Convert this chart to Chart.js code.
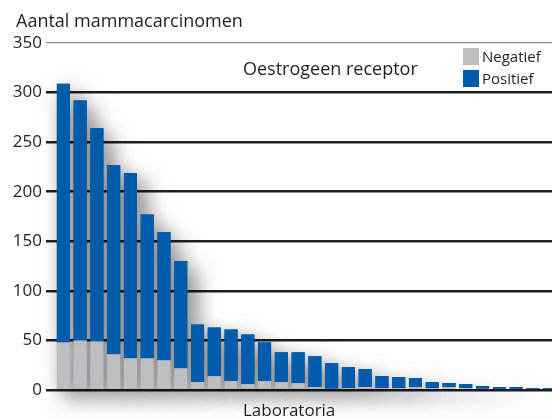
<!DOCTYPE html>
<html>
<head>
<meta charset="utf-8">
<script src="https://cdn.jsdelivr.net/npm/chart.js@4/dist/chart.umd.min.js"></script>
<style>
  html, body { margin: 0; padding: 0; background: #fff; overflow: hidden; }
  #wrap { width: 552px; height: 419px; overflow: hidden; }
</style>
</head>
<body>
<div id="wrap"><canvas id="chart" width="558" height="419"></canvas></div>
<script>
// one category per laboratorium, sorted by total
const labs = ["1", "2", "3", "4", "5", "6", "7", "8", "9", "10",
  "11", "12", "13", "14", "15", "16", "17", "18", "19", "20",
  "21", "22", "23", "24", "25", "26", "27", "28", "29", "30"];
const negatief = [48, 50, 49, 36, 32, 32, 30, 22, 8, 14, 9, 6, 9, 8, 7, 3, 1, 2, 3, 2, 2, 3, 2, 3, 2, 1, 0, 0, 0, 0];
const positief = [261, 242, 215, 191, 187, 145, 129, 108, 58, 49, 52, 50, 39, 30, 31, 31, 26, 21, 18, 12, 11, 9, 6, 4, 4, 3, 3, 3, 2, 2];
const yTicks = [0, 50, 100, 150, 200, 250, 300, 350];

const FONT = "'Open Sans', 'Noto Sans', sans-serif";
const INK = "#231f20";
const BLUE = "#005bab";
const GREY = "#bdbec2";

// shadow pass behind all bars, then normal bars drawn on top
const shadowPass = {
  id: "shadowPass",
  beforeDatasetsDraw(chart) {
    var ctx = chart.ctx;
    ctx.save();
    ctx.shadowColor = "rgba(0,0,0,0.62)";
    ctx.shadowBlur = 22;
    ctx.shadowOffsetX = 8;
    ctx.shadowOffsetY = 9;
    chart.getSortedVisibleDatasetMetas().forEach(function (meta) {
      meta.data.forEach(function (bar) { bar.draw(ctx); });
    });
    ctx.restore();
  }
};

const texts = {
  id: "texts",
  afterDraw(chart) {
    var ctx = chart.ctx;
    ctx.save();
    ctx.fillStyle = INK;
    ctx.textBaseline = "alphabetic";
    ctx.textAlign = "left";
    ctx.font = "18px " + FONT;
    ctx.fillText("Aantal mammacarcinomen", 16, 27);
    ctx.fillText("Oestrogeen receptor", 243, 75);
    ctx.font = "17px " + FONT;
    ctx.fillText("Laboratoria", 243, 416);

    // legend
    var items = [[GREY, "Negatief"], [BLUE, "Positief"]];
    items.forEach(function (it, i) {
      var y = 48 + i * 22;
      ctx.fillStyle = it[0];
      ctx.fillRect(463, y, 16, 17);
      ctx.fillStyle = INK;
      ctx.font = "15px " + FONT;
      ctx.fillText(it[1], 482, y + 14);
    });
    ctx.restore();
  }
};

new Chart(document.getElementById("chart"), {
  type: "bar",
  data: {
    labels: labs,
    datasets: [
      {
        label: "Negatief",
        data: negatief,
        backgroundColor: GREY,
        borderWidth: 0,
        clip: false
      },
      {
        label: "Positief",
        data: positief,
        backgroundColor: BLUE,
        borderWidth: 0,
        clip: false
      }
    ]
  },
  options: {
    responsive: false,
    animation: false,
    layout: { padding: { top: 43, bottom: 29, left: 0, right: 0 } },
    datasets: { bar: { barPercentage: 0.78, categoryPercentage: 1 } },
    plugins: {
      legend: { display: false },
      tooltip: { enabled: false },
      title: { display: false }
    },
    scales: {
      x: {
        display: false,
        stacked: true
      },
      y: {
        stacked: true,
        min: 0,
        max: 350,
        afterFit: function (axis) { axis.width = 55; },
        afterBuildTicks: function (axis) {
          axis.ticks = yTicks.map(function (v) { return { value: v }; });
        },
        border: { display: false },
        grid: {
          drawTicks: true,
          tickLength: 9,
          color: function (c) { return c.tick && c.tick.value === 350 ? "#8a8a8a" : INK; },
          lineWidth: function (c) { return c.tick && c.tick.value === 350 ? 1.2 : 2.5; }
        },
        ticks: {
          padding: 4,
          color: INK,
          font: { family: FONT, size: 17 }
        }
      }
    }
  },
  plugins: [shadowPass, texts]
});
</script>
</body>
</html>
